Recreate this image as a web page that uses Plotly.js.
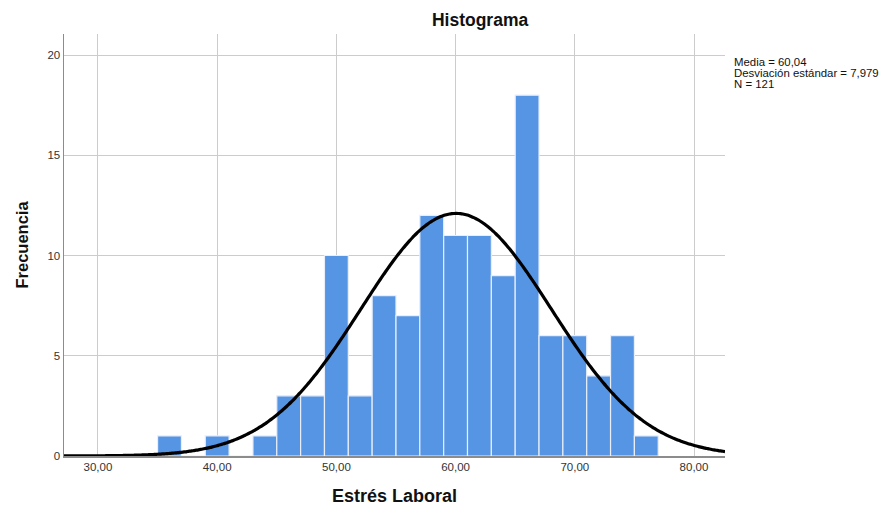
<!DOCTYPE html>
<html>
<head>
<meta charset="utf-8">
<script src="https://cdn.plot.ly/plotly-3.0.1.min.js"></script>
<style>html,body{margin:0;padding:0;background:#fff;}#chart{width:894px;height:506px;}</style>
</head>
<body>
<div id="chart"></div>
<script>
// Bin lower edges (width 2) and frequencies
const binStarts = [35, 37, 39, 41, 43, 45, 47, 49, 51, 53, 55, 57, 59, 61, 63, 65, 67, 69, 71, 73, 75];
const frequencies = [1, 0, 1, 0, 1, 3, 3, 10, 3, 8, 7, 12, 11, 11, 9, 18, 6, 6, 4, 6, 1];
const binWidth = 2;
const media = 60.04;
const desviacion = 7.979;
const n = 121;
const xTicks = [30, 40, 50, 60, 70, 80];
const yTicks = [0, 5, 10, 15, 20];
const xRange = [27.15, 82.6];
const yRange = [0, 21.05];
const statsLines = ['Media = 60,04', 'Desviación estándar = 7,979', 'N = 121'];

const centers = binStarts.map(s => s + binWidth / 2);

// Fitted normal curve from the reported statistics
const cx = [], cy = [];
const steps = 300;
for (let i = 0; i <= steps; i++) {
  const x = xRange[0] + (xRange[1] - xRange[0]) * i / steps;
  const z = (x - media) / desviacion;
  cx.push(x);
  cy.push(n * binWidth / (desviacion * Math.sqrt(2 * Math.PI)) * Math.exp(-0.5 * z * z));
}

const traces = [
  {
    type: 'bar', x: centers, y: frequencies, width: binWidth,
    marker: {color: '#5595e4', line: {color: '#e8eefa', width: 1.2}},
    hoverinfo: 'x+y'
  },
  {
    type: 'scatter', mode: 'lines', x: cx, y: cy,
    line: {color: '#000', width: 3.2, shape: 'spline'},
    hoverinfo: 'skip'
  }
];

const statsY = [0.9336, 0.9076, 0.8815];
const annotations = statsLines.map((t, i) => ({
  xref: 'paper', yref: 'paper', x: 1.0105, y: statsY[i],
  xanchor: 'left', yanchor: 'middle', align: 'left', showarrow: false,
  text: t, font: {size: 11.4, color: '#111'}
}));

const layout = {
  width: 894, height: 506,
  margin: {l: 64, r: 169, t: 34, b: 50},
  paper_bgcolor: '#fff', plot_bgcolor: '#fff',
  showlegend: false,
  separators: ',.',
  font: {family: 'Liberation Sans, Arial, sans-serif', color: '#222', size: 12},
  title: {
    text: '<b>Histograma</b>',
    font: {size: 17.5, color: '#111'},
    x: 0.537, xanchor: 'center', y: 0.96, yanchor: 'middle'
  },
  xaxis: {
    range: xRange, tickvals: xTicks, tickformat: '.2f',
    showgrid: true, gridcolor: '#cccccc', gridwidth: 1,
    showline: true, linecolor: '#8c8c8c', linewidth: 1.5,
    zeroline: false, ticks: '', ticklen: 0,
    tickfont: {size: 11.5, color: '#333'},
    title: {text: '<b>Estrés Laboral</b>', font: {size: 18, color: '#111'}, standoff: 18}
  },
  yaxis: {
    range: yRange, tickvals: yTicks,
    showgrid: true, gridcolor: '#cccccc', gridwidth: 1,
    showline: true, linecolor: '#8c8c8c', linewidth: 1.5,
    zeroline: false, ticks: '', ticklen: 0,
    tickfont: {size: 11.5, color: '#333'},
    title: {text: '<b>Frecuencia</b>', font: {size: 16.5, color: '#111'}, standoff: 14}
  },
  annotations: annotations
};

Plotly.newPlot('chart', traces, layout, {displayModeBar: false, staticPlot: true});
</script>
</body>
</html>
